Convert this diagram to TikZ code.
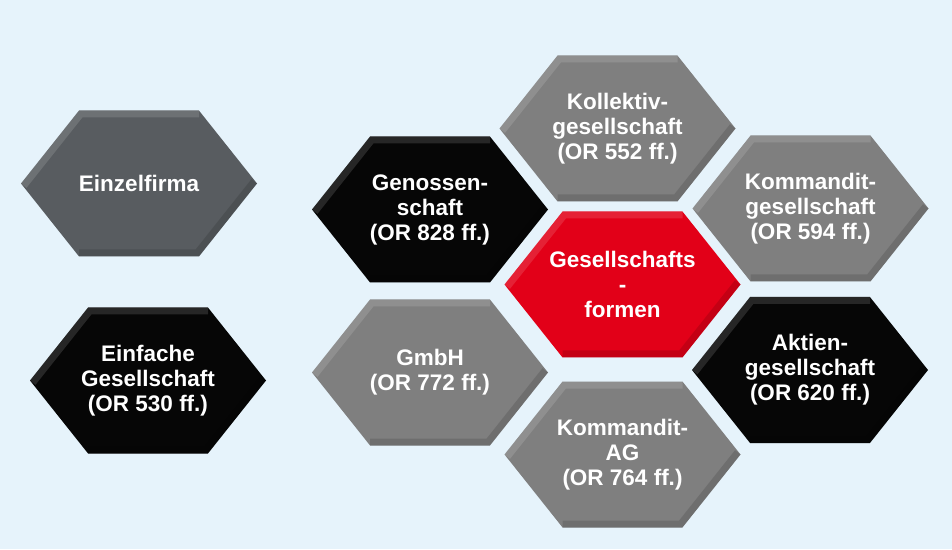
\documentclass[tikz,border=0pt]{standalone}
\usepackage{fontspec}
\setmainfont{Liberation Sans}
\usetikzlibrary{shapes.symbols, calc}
\definecolor{bgblue}{RGB}{230,243,251}
\definecolor{hexdark}{RGB}{88,92,96}
\definecolor{hexgray}{RGB}{127,127,127}
\definecolor{hexblack}{RGB}{6,6,6}
\definecolor{hexred}{RGB}{226,0,24}
\tikzset{
  hexa/.style   ={shape=signal, signal to=west and east, signal pointer angle=103,
                  minimum width=236pt, minimum height=146pt, inner xsep=-40pt, inner ysep=0pt,
                  text=white, align=center, font=\bfseries\fontsize{22.5}{25}\selectfont,
                  path picture={
                    \draw[white, opacity=.13, line width=14pt]
                      (path picture bounding box.west)
                      -- ($(path picture bounding box.north west)+(58,0)$)
                      -- ($(path picture bounding box.north east)+(-58,0)$);
                    \draw[black, opacity=.13, line width=14pt]
                      (path picture bounding box.east)
                      -- ($(path picture bounding box.south east)+(-58,0)$)
                      -- ($(path picture bounding box.south west)+(58,0)$);
                  }},
  hexdk/.style  ={hexa, fill=hexdark},
  hexgy/.style  ={hexa, fill=hexgray},
  hexbk/.style  ={hexa, fill=hexblack},
  hexrd/.style  ={hexa, fill=hexred},
}
\begin{document}
\begin{tikzpicture}[x=1pt, y=1pt]
  \fill[bgblue] (0,0) rectangle (952,549);
  % left column
  \node[hexdk] (einzelfirma) at (139,365.5) {Einzelfirma};
  \node[hexbk] (einfache) at (148,168.5) {Einfache\\Gesellschaft\\(OR 530 ff.)};
  % honeycomb round the centre
  \node[hexrd] (formen) at (622.5,264.5) {Gesellschafts\\-\\formen};
  \node[hexbk] (genossen) at (430,339.5) {Genossen-\\schaft\\(OR 828 ff.)};
  \node[hexgy] (kollektiv) at (617.5,420.5) {Kollektiv-\\gesellschaft\\(OR 552 ff.)};
  \node[hexgy] (kommandit) at (810.5,340.5) {Kommandit-\\gesellschaft\\(OR 594 ff.)};
  \node[hexbk] (aktien) at (810,179) {Aktien-\\gesellschaft\\(OR 620 ff.)};
  \node[hexgy] (kommag) at (622.5,94.5) {Kommandit-\\AG\\(OR 764 ff.)};
  \node[hexgy] (gmbh) at (430,176.5) {GmbH\\(OR 772 ff.)};
\end{tikzpicture}
\end{document}
